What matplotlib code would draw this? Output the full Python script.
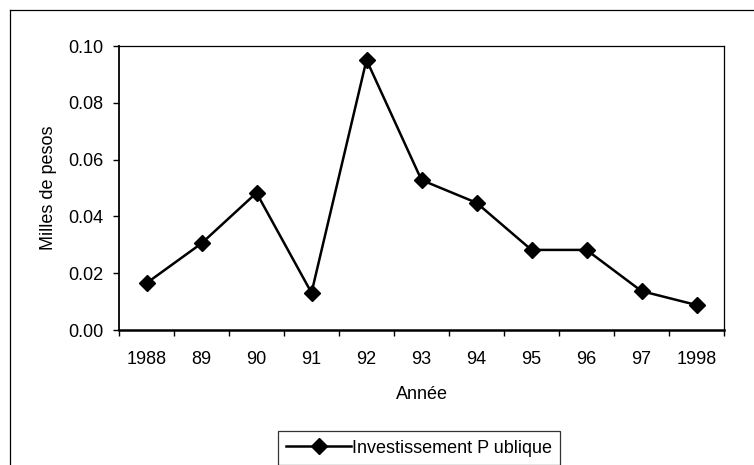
import matplotlib
matplotlib.use("Agg")
import matplotlib.pyplot as plt
from matplotlib.lines import Line2D
import numpy as np

plt.rcParams['font.family'] = ['Liberation Sans', 'DejaVu Sans']

years = ["1988", "89", "90", "91", "92", "93", "94", "95", "96", "97", "1998"]
investissement = [0.0165, 0.0305, 0.0483, 0.0131, 0.0951, 0.0528, 0.0448, 0.0282, 0.0282, 0.0137, 0.0088]
yticks = [0.00, 0.02, 0.04, 0.06, 0.08, 0.10]

fs = 13
fig = plt.figure(figsize=(7.54, 4.65), dpi=100)
W, H = 754, 465
ax = fig.add_axes([119 / W, 1 - 330 / H, (724 - 119) / W, (330 - 46) / H])

x = np.arange(len(years))
ax.plot(x, investissement, color='black', linewidth=1.8, marker='D', markersize=8,
        markerfacecolor='black', markeredgecolor='black', label='Investissement P ublique')

ax.set_xlim(-0.5, len(years) - 0.5)
ax.set_ylim(0, 0.10)
ax.set_yticks(yticks)
ax.set_yticklabels([f"{v:.2f}" for v in yticks])
ax.set_xticks(x)
ax.set_xticklabels(years)
ax.set_xticks(np.arange(-0.5, len(years)), minor=True)
ax.tick_params(axis='x', which='major', length=0, pad=15, labelsize=fs)
ax.tick_params(axis='x', which='minor', length=4, width=1, direction='out')
ax.tick_params(axis='y', which='major', length=4, width=1, direction='out', pad=7, labelsize=fs)

for side in ['top', 'right']:
    ax.spines[side].set_linewidth(0.9)
ax.spines['bottom'].set_linewidth(1.8)
ax.spines['left'].set_linewidth(1.3)

ax.set_xlabel("Année", fontsize=fs, labelpad=13)
ax.set_ylabel("Milles de pesos", fontsize=fs, labelpad=8)

leg = fig.legend(loc='center', bbox_to_anchor=(419 / W, 1 - 448 / H), frameon=True,
                 fancybox=False, edgecolor='black', fontsize=fs, handlelength=3.6,
                 handletextpad=0.05, borderpad=0.45)
leg.get_frame().set_linewidth(0.9)

fig.add_artist(Line2D([10 / W, 1.0], [1 - 10 / H, 1 - 10 / H], color='black', linewidth=0.9,
                      transform=fig.transFigure))
fig.add_artist(Line2D([10 / W, 10 / W], [0.0, 1 - 10 / H], color='black', linewidth=0.9,
                      transform=fig.transFigure))

fig.savefig("out.png", dpi=100)
